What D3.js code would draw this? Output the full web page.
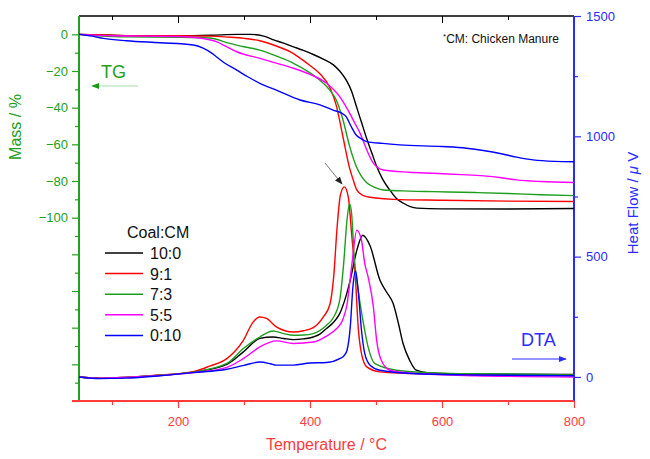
<!DOCTYPE html>
<html>
<head>
<meta charset="utf-8">
<script src="https://cdn.jsdelivr.net/npm/d3@7"></script>
<style>
  body { margin: 0; background: #fff; }
  svg { display: block; font-family: "Liberation Sans", Arial, sans-serif; }
</style>
</head>
<body>
<svg id="chart" width="650" height="459"></svg>
<script>
// ---- data: [temperature (°C), value] ----
// TG mass loss (%)
var tg_10_0 = [[50,0],[100,-0.5],[150,-0.8],[200,-0.8],[250,-0.5],[290,0],[310,0],[330,-1],[345,-3],[360,-4.8],[375,-6.8],[390,-8.8],[405,-11],[420,-13.5],[435,-16.5],[445,-20],[455,-25],[463,-31],[470,-39],[478,-48],[486,-57],[494,-65],[501,-72],[510,-79],[521,-85],[531,-89.5],[541,-92],[552,-94],[562,-94.8],[600,-95.2],[700,-95.3],[800,-95]];
var tg_9_1 = [[50,0],[100,-0.5],[150,-0.8],[200,-0.8],[250,-1],[275,-1.5],[300,-2.2],[324,-3.5],[350,-6.5],[375,-10.5],[385,-13],[400,-17],[415,-21.5],[430,-29],[440,-39],[450,-56],[460,-73],[466,-80],[471,-85],[480,-87.8],[486,-88.5],[500,-89.3],[526,-90],[600,-90.5],[700,-91],[800,-91.2]];
var tg_7_3 = [[50,0],[80,-0.8],[120,-1.4],[200,-1.6],[248,-2],[274,-4.5],[300,-6.8],[324,-8.6],[350,-12],[375,-15.8],[400,-21],[415,-25],[430,-30.4],[440,-36],[450,-46.7],[460,-61],[470,-72],[478,-77.5],[486,-81],[498,-83.5],[511,-84.9],[550,-85.5],[587,-85.8],[650,-86.3],[700,-86.8],[750,-87.5],[800,-88]];
var tg_5_5 = [[50,0],[100,-0.8],[150,-1],[200,-1.2],[238,-2.3],[258,-4],[275,-7],[289,-9.5],[324,-13.1],[350,-15.8],[375,-18.5],[400,-21.8],[425,-26.7],[445,-34],[460,-43],[468,-48.5],[476,-54],[486,-63],[496,-70.3],[503,-72.8],[511,-74],[550,-75.2],[587,-75.8],[630,-76.5],[663,-77.2],[690,-78.2],[713,-79.4],[750,-80.3],[800,-80.8]];
var tg_0_10 = [[50,0],[70,-1],[87,-2.2],[122,-3.5],[173,-4.6],[223,-5.8],[238,-7.5],[250,-10],[258,-12.2],[270,-15.5],[289,-19.5],[305,-23],[324,-26.7],[349,-30.4],[385,-35.8],[415,-38.5],[435,-41.3],[448,-43],[455,-45],[462,-50],[470,-54.9],[478,-57],[486,-58.5],[510,-59.5],[536,-60.3],[600,-61.2],[637,-62.1],[665,-63.5],[688,-65],[713,-67],[738,-68.5],[770,-69.3],[800,-69.5]];

// DTA heat flow (µV)
var dta_10_0 = [[50,0],[82,-5],[120,-2],[173,7],[223,20],[274,52],[299,104],[324,160],[344,166],[360,160],[375,155],[390,158],[405,166],[415,178],[425,201],[435,225],[445,263],[455,340],[461,402],[471,527],[480,589],[491,545],[506,402],[516,353],[526,305],[534,222],[541,139],[551,69],[561,28],[580,17],[650,12],[800,10]];
var dta_9_1 = [[50,0],[82,-5],[120,-2],[173,8],[223,22],[248,45],[274,76],[299,152],[314,229],[324,249],[334,243],[349,208],[362,192],[375,187],[390,192],[405,205],[420,249],[430,300],[436,420],[441,620],[446,755],[452,790],[458,748],[463,596],[469,402],[473,208],[478,97],[486,42],[506,21],[556,14],[650,10],[800,6]];
var dta_7_3 = [[50,0],[82,-5],[120,-2],[173,7],[223,20],[274,56],[299,118],[324,166],[344,191],[360,180],[375,173],[390,174],[405,180],[425,215],[435,245],[445,319],[451,471],[456,651],[460,720],[463,680],[467,499],[473,360],[481,222],[488,125],[498,56],[531,28],[600,16],[700,12],[800,8]];
var dta_5_5 = [[50,0],[82,-5],[120,-2],[173,6],[223,18],[274,40],[299,76],[324,125],[349,150],[375,139],[405,145],[425,170],[440,200],[450,240],[456,300],[463,457],[471,610],[478,568],[483,471],[488,416],[496,291],[501,152],[508,69],[521,28],[560,14],[650,5],[800,0]];
var dta_0_10 = [[50,0],[82,-7],[120,-5],[173,5],[223,18],[274,32],[300,48],[324,62],[340,55],[349,49],[375,49],[400,58],[425,60],[445,76],[452,90],[456,110],[461,208],[465,374],[469,440],[473,360],[478,194],[483,97],[491,49],[506,28],[556,14],[650,8],[800,5]];

var seriesNames = ["10:0", "9:1", "7:3", "5:5", "0:10"];
var seriesColors = ["#000000", "#ff0000", "#1e9e1e", "#ff00ff", "#0000ff"];
var tgData = [tg_10_0, tg_9_1, tg_7_3, tg_5_5, tg_0_10];
var dtaData = [dta_10_0, dta_9_1, dta_7_3, dta_5_5, dta_0_10];

var xMajor = [200, 400, 600, 800];
var xMinor = [100, 300, 500, 700];
var massLabels = [0, -20, -40, -60, -80, -100];
var massMajor = d3.range(-200, 1, 20);
var massMinor = d3.range(-190, 0, 20);
var heatMajor = [0, 500, 1000, 1500];
var heatMinor = [250, 750, 1250];

// ---- layout ----
var svg = d3.select("#chart");
var L = 79, R = 574, T = 16, B = 401;
var green = "#22a022", red = "#ff3b3b", blue = "#2b2bff";

var x = d3.scaleLinear().domain([50, 800]).range([L, R]);
var yL = d3.scaleLinear().domain([-200, 10]).range([B, T]);
var yR = d3.scaleLinear().domain([-100, 1500]).range([B, T]);

var defs = svg.append("defs");
defs.append("clipPath").attr("id", "clip")
  .append("rect").attr("x", L).attr("y", T).attr("width", R - L).attr("height", B - T);

// top axis (black, ticks inward)
var gTop = svg.append("g").attr("transform", "translate(0," + T + ")");
gTop.append("g").call(d3.axisBottom(x).tickValues(xMajor).tickSize(7).tickFormat(""));
gTop.append("g").call(d3.axisBottom(x).tickValues(xMinor).tickSize(4).tickFormat(""));
gTop.selectAll("path.domain").remove();
gTop.selectAll("line").attr("stroke", "#000");
gTop.append("line").attr("x1", L).attr("x2", R).attr("stroke", "#000").attr("stroke-width", 1.5);

// left axis (green)
var gLeft = svg.append("g").attr("transform", "translate(" + L + ",0)");
gLeft.append("g").call(d3.axisLeft(yL).tickValues(massMajor).tickSize(7)
  .tickFormat(function (d) { return massLabels.indexOf(d) >= 0 ? d3.format("d")(d).replace("-", "\u2212") : ""; }));
gLeft.append("g").call(d3.axisLeft(yL).tickValues(massMinor).tickSize(4).tickFormat(""));
gLeft.selectAll("path.domain").remove();
gLeft.selectAll("line").attr("stroke", green).attr("stroke-width", 1.2);
gLeft.selectAll("text").attr("fill", green).attr("font-size", 13).attr("x", -11);
gLeft.append("line").attr("y1", T).attr("y2", B).attr("stroke", green).attr("stroke-width", 2);

// right axis (blue)
var gRight = svg.append("g").attr("transform", "translate(" + R + ",0)");
gRight.append("g").call(d3.axisRight(yR).tickValues(heatMajor).tickSize(7).tickFormat(d3.format("d")));
gRight.append("g").call(d3.axisRight(yR).tickValues(heatMinor).tickSize(4).tickFormat(""));
gRight.selectAll("path.domain").remove();
gRight.selectAll("line").attr("stroke", blue).attr("stroke-width", 1.2);
gRight.selectAll("text").attr("fill", blue).attr("font-size", 13).attr("x", 12);
gRight.append("line").attr("y1", T).attr("y2", B).attr("stroke", blue).attr("stroke-width", 2);

// bottom axis (red)
var gBottom = svg.append("g").attr("transform", "translate(0," + B + ")");
gBottom.append("g").call(d3.axisBottom(x).tickValues(xMajor).tickSize(7));
gBottom.append("g").call(d3.axisBottom(x).tickValues(xMinor).tickSize(4).tickFormat(""));
gBottom.selectAll("path.domain").remove();
gBottom.selectAll("line").attr("stroke", red).attr("stroke-width", 1.2);
gBottom.selectAll("text").attr("fill", red).attr("font-size", 13).attr("y", 16);
gBottom.append("line").attr("x1", L - 7).attr("x2", R).attr("stroke", red).attr("stroke-width", 2);

// curves
var plot = svg.append("g").attr("clip-path", "url(#clip)");
var lineTG = d3.line().x(function (d) { return x(d[0]); }).y(function (d) { return yL(d[1]); }).curve(d3.curveMonotoneX);
var lineDTA = d3.line().x(function (d) { return x(d[0]); }).y(function (d) { return yR(d[1]); }).curve(d3.curveMonotoneX);

plot.selectAll("path.tg").data(tgData).enter().append("path")
  .attr("class", "tg").attr("d", lineTG).attr("fill", "none")
  .attr("stroke", function (d, i) { return seriesColors[i]; }).attr("stroke-width", 1.4);
plot.selectAll("path.dta").data(dtaData).enter().append("path")
  .attr("class", "dta").attr("d", lineDTA).attr("fill", "none")
  .attr("stroke", function (d, i) { return seriesColors[i]; }).attr("stroke-width", 1.4);

// axis titles
svg.append("text").attr("transform", "translate(21,127) rotate(-90)")
  .attr("text-anchor", "middle").attr("fill", green).attr("font-size", 16).text("Mass / %");
var hf = svg.append("text").attr("transform", "translate(638,203) rotate(-90)")
  .attr("text-anchor", "middle").attr("fill", blue).attr("font-size", 15);
hf.append("tspan").text("Heat Flow / ");
hf.append("tspan").attr("font-style", "italic").text("\u03bc");
hf.append("tspan").text(" V");
svg.append("text").attr("x", (L + R) / 2).attr("y", 450)
  .attr("text-anchor", "middle").attr("fill", red).attr("font-size", 16).text("Temperature / \u00b0C");

// note
var note = svg.append("text").attr("x", 443).attr("y", 43).attr("font-size", 12).attr("fill", "#111");
note.append("tspan").attr("font-size", 8).attr("dy", -4).text("*");
note.append("tspan").attr("dy", 4).text("CM: Chicken Manure");

// arrows
function marker(id, color) {
  defs.append("marker").attr("id", id).attr("viewBox", "0 0 10 10").attr("refX", 9).attr("refY", 5)
    .attr("markerWidth", 8).attr("markerHeight", 8).attr("markerUnits", "userSpaceOnUse").attr("orient", "auto")
    .append("path").attr("d", "M0,1 L10,5 L0,9 Z").attr("fill", color);
}
marker("ag", "#169a16");
marker("ab", blue);
marker("ak", "#222");

svg.append("text").attr("x", 101).attr("y", 78).attr("fill", green).attr("font-size", 18).text("TG");
svg.append("line").attr("x1", 138).attr("y1", 86).attr("x2", 92).attr("y2", 86)
  .attr("stroke", "#a8dca8").attr("stroke-width", 1).attr("marker-end", "url(#ag)");

svg.append("text").attr("x", 521).attr("y", 346).attr("fill", blue).attr("font-size", 18).text("DTA");
svg.append("line").attr("x1", 512).attr("y1", 359).attr("x2", 566).attr("y2", 359)
  .attr("stroke", blue).attr("stroke-width", 1).attr("marker-end", "url(#ab)");

svg.append("line").attr("x1", 325).attr("y1", 163).attr("x2", 342).attr("y2", 184)
  .attr("stroke", "#777").attr("stroke-width", 1).attr("marker-end", "url(#ak)");

// legend
var legend = svg.append("g").attr("font-size", 16).attr("fill", "#111");
legend.append("text").attr("x", 127).attr("y", 238).text("Coal:CM");
var items = legend.selectAll("g.item").data(seriesNames).enter().append("g").attr("class", "item")
  .attr("transform", function (d, i) { return "translate(0," + (253 + i * 20.6) + ")"; });
items.append("line").attr("x1", 105).attr("x2", 143)
  .attr("stroke", function (d, i) { return seriesColors[i]; }).attr("stroke-width", 1.5);
items.append("text").attr("x", 150).attr("y", 6).text(function (d) { return d; });
</script>
</body>
</html>
